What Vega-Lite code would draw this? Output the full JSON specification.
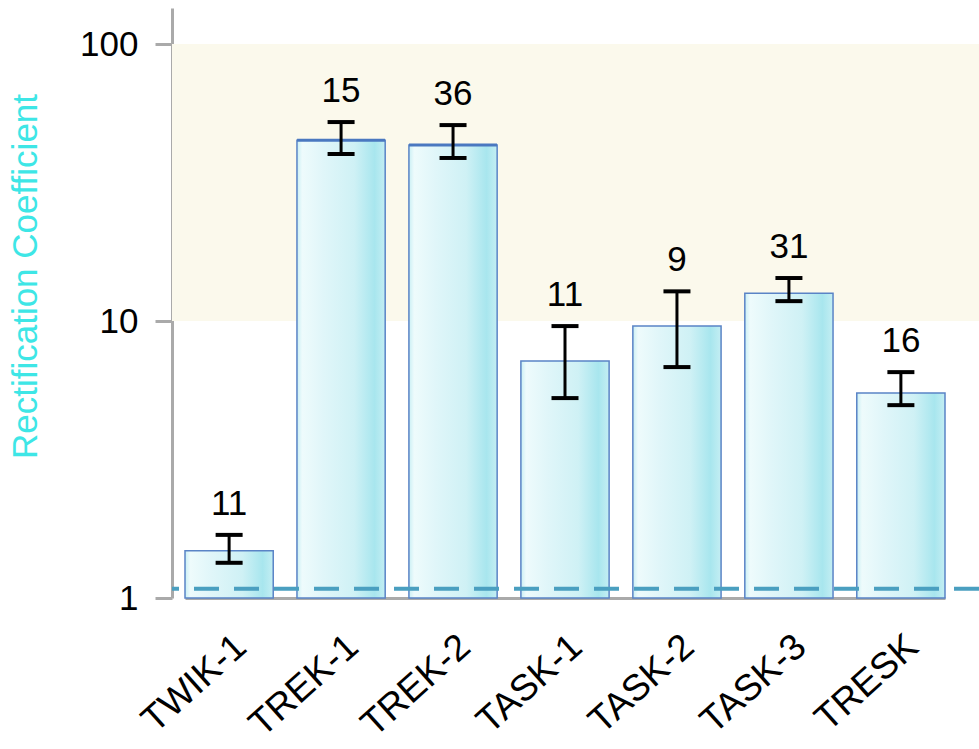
{
  "$schema": "https://vega.github.io/schema/vega-lite/v6.json",
  "autosize": "none",
  "width": 807,
  "height": 590,
  "padding": {"left": 172, "top": 8, "right": 0, "bottom": 151},
  "background": "white",
  "config": {"font": "Liberation Sans", "view": {"stroke": null}},
  "data": {"values": [
    {"channel": "TWIK-1", "value": 1.48, "lo": 1.34, "hi": 1.69, "n": "11"},
    {"channel": "TREK-1", "value": 45.0, "lo": 40.1, "hi": 52.3, "n": "15"},
    {"channel": "TREK-2", "value": 43.2, "lo": 38.8, "hi": 51.0, "n": "36"},
    {"channel": "TASK-1", "value": 7.17, "lo": 5.27, "hi": 9.59, "n": "11"},
    {"channel": "TASK-2", "value": 9.59, "lo": 6.82, "hi": 12.8, "n": "9"},
    {"channel": "TASK-3", "value": 12.6, "lo": 11.8, "hi": 14.3, "n": "31"},
    {"channel": "TRESK", "value": 5.50, "lo": 4.97, "hi": 6.54, "n": "16"}
  ]},
  "encoding": {
    "x": {
      "field": "channel", "type": "nominal", "sort": null,
      "scale": {"range": [13, 773], "paddingInner": 0.212, "paddingOuter": 0},
      "axis": {
        "title": null, "labelAngle": -42, "labelFontSize": 37, "labelColor": "black",
        "ticks": false, "labelPadding": 30, "domainColor": "#aaaaaa", "domainWidth": 3
      }
    }
  },
  "layer": [
    {
      "data": {"values": [{}]},
      "mark": {"type": "rect", "color": "#fbf9ec"},
      "encoding": {
        "x": null,
        "y": {"datum": 100, "type": "quantitative", "scale": {"type": "log", "domain": [1, 135], "nice": false}},
        "y2": {"datum": 10}
      }
    },
    {
      "mark": {
        "type": "bar", "stroke": "#5a84c6", "strokeWidth": 1.5,
        "fill": {"gradient": "linear", "x1": 0, "x2": 1, "y1": 0, "y2": 0, "stops": [
          {"offset": 0, "color": "#c9eff4"},
          {"offset": 0.06, "color": "#eefbfc"},
          {"offset": 0.3, "color": "#e0f6f9"},
          {"offset": 0.65, "color": "#cff1f5"},
          {"offset": 0.88, "color": "#a8e6ee"},
          {"offset": 1, "color": "#c4eef3"}
        ]}
      },
      "encoding": {
        "y": {
          "field": "value", "type": "quantitative",
          "scale": {"type": "log", "domain": [1, 135], "nice": false},
          "axis": {
            "values": [1, 10, 100], "format": "d", "grid": false,
            "title": "Rectification Coefficient", "titleColor": "#3ee6e6", "titleFontSize": 35,
            "titleFontWeight": "normal", "titlePadding": 36, "titleY": 268,
            "labelFontSize": 35, "labelColor": "black", "labelPadding": 17,
            "tickSize": 17, "tickWidth": 3, "tickColor": "#aaaaaa",
            "domainColor": "#aaaaaa", "domainWidth": 3
          }
        },
        "y2": {"datum": 1}
      }
    },
    {
      "transform": [{"filter": {"field": "channel", "oneOf": ["TREK-1", "TREK-2"]}}],
      "mark": {"type": "tick", "color": "#4a78c0", "thickness": 3, "size": 88, "opacity": 1},
      "encoding": {"y": {"field": "value", "type": "quantitative"}}
    },
    {
      "data": {"values": [{}]},
      "mark": {"type": "rule", "color": "#4a9fc0", "strokeWidth": 4, "strokeDash": [25, 15]},
      "encoding": {"x": null, "y": {"datum": 1.08, "type": "quantitative"}}
    },
    {
      "mark": {"type": "rule", "color": "black", "strokeWidth": 3},
      "encoding": {
        "y": {"field": "lo", "type": "quantitative"},
        "y2": {"field": "hi"}
      }
    },
    {
      "mark": {"type": "tick", "color": "black", "thickness": 4, "size": 27, "opacity": 1},
      "encoding": {"y": {"field": "lo", "type": "quantitative"}}
    },
    {
      "mark": {"type": "tick", "color": "black", "thickness": 4, "size": 27, "opacity": 1},
      "encoding": {"y": {"field": "hi", "type": "quantitative"}}
    },
    {
      "mark": {"type": "text", "fontSize": 35, "color": "black", "baseline": "alphabetic", "dy": -20},
      "encoding": {
        "y": {"field": "hi", "type": "quantitative"},
        "text": {"field": "n"}
      }
    }
  ]
}
